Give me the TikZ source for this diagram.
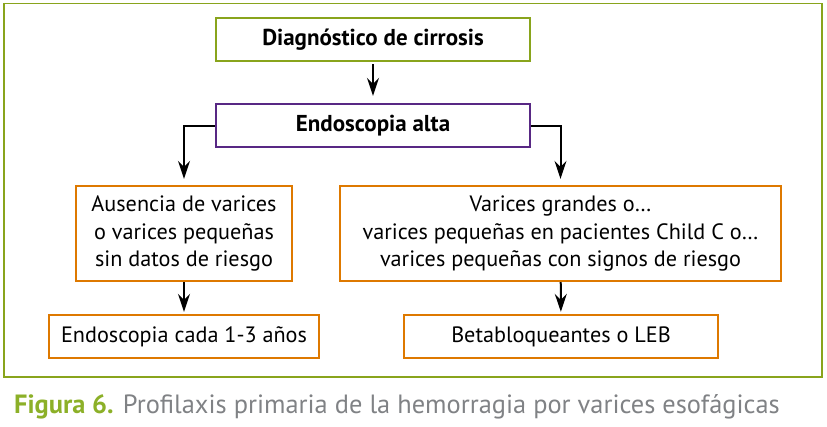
\documentclass[tikz,border=0pt]{standalone}
\usepackage{fontspec}
\setmainfont{PT Sans}
\usetikzlibrary{arrows.meta}
\definecolor{framegreen}{RGB}{137,164,28}
\definecolor{boxpurple}{RGB}{88,40,132}
\definecolor{boxorange}{RGB}{222,121,0}
\definecolor{capgray}{RGB}{128,130,133}
\definecolor{capgreen}{RGB}{140,176,40}
\tikzset{
  box/.style={draw, line width=2.3pt, rectangle, align=center, inner sep=0pt,
    font=\fontsize{22.2}{27.5}\selectfont, text=black},
  boldbox/.style={box, font=\fontsize{23}{27}\selectfont\bfseries},
  conn/.style={line width=2pt, -{Stealth[length=18pt,width=12pt,inset=6pt]},
    shorten >=6pt}
}
\begin{document}
\begin{tikzpicture}[x=1pt,y=-1pt]
\useasboundingbox (0,0) rectangle (827,426);
\draw[framegreen, line width=1.2pt] (4,3.5) rectangle (822,377);
\node[boldbox, draw=framegreen, minimum width=314pt, minimum height=43pt] (b1) at (373,39.5) {Diagnóstico de cirrosis};
\node[boldbox, draw=boxpurple, minimum width=314pt, minimum height=43pt] (b2) at (373,125.5) {Endoscopia alta};
\node[box, draw=boxorange, minimum width=216pt, minimum height=95pt] (b3l) at (184,233.5) {Ausencia de varices\\o varices pequeñas\\sin datos de riesgo};
\node[box, draw=boxorange, minimum width=441pt, minimum height=95pt] (b3r) at (560.5,233.5) {Varices grandes o…\\varices pequeñas en pacientes Child C o…\\varices pequeñas con signos de riesgo};
\node[box, draw=boxorange, minimum width=270pt, minimum height=43pt] (b4l) at (184,336.5) {Endoscopia cada 1-3 años};
\node[box, draw=boxorange, minimum width=314pt, minimum height=43pt] (b4r) at (561,336.5) {Betabloqueantes o LEB};
\draw[conn, shorten <=2pt, shorten >=7pt] (b1) -- (b2);
\draw[conn] (b2.west) -| (b3l.north);
\draw[conn] (b2.east) -| (b3r.north);
\draw[conn, shorten >=2pt] (b3l) -- (b4l);
\draw[conn, shorten >=2pt] (b3r) -- (b4r);
\node[anchor=base west, inner sep=0pt, font=\fontsize{26.4}{30}\selectfont, text=capgray] (cap) at (14,413)
  {{\color{capgreen}\bfseries Figura 6.} Profilaxis primaria de la hemorragia por varices esofágicas};
\end{tikzpicture}
\end{document}
